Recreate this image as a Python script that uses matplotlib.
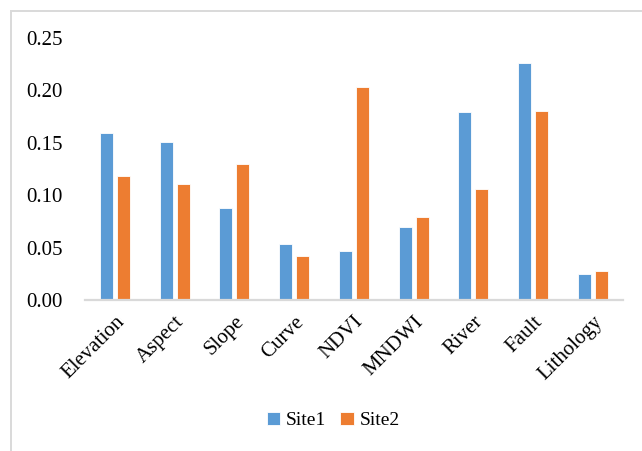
import matplotlib.pyplot as plt
import numpy as np
from matplotlib.patches import Rectangle
from matplotlib.transforms import ScaledTranslation

factors = ["Elevation", "Aspect", "Slope", "Curve", "NDVI", "MNDWI", "River", "Fault", "Lithology"]
site1 = [0.159, 0.151, 0.088, 0.053, 0.047, 0.070, 0.179, 0.226, 0.025]
site2 = [0.118, 0.111, 0.130, 0.042, 0.203, 0.079, 0.106, 0.180, 0.028]

C_SITE1 = "#5B9BD5"
C_SITE2 = "#ED7D31"
C_FRAME = "#D9D9D9"

plt.rcParams.update({
    "font.family": ["Liberation Serif", "DejaVu Serif"],
    "font.size": 15,
})

fig = plt.figure(figsize=(6.42, 4.51), dpi=100)
ax = fig.add_axes([0.1324, 0.3348, 0.8376, 0.5809])

x = np.arange(len(factors))
w = 0.215
off = 0.142
ax.bar(x - off, site1, width=w, color=C_SITE1, edgecolor="white", linewidth=0.6, label="Site1")
ax.bar(x + off, site2, width=w, color=C_SITE2, edgecolor="white", linewidth=0.6, label="Site2")

ax.set_xlim(-0.5, len(factors) - 0.5)
ax.set_ylim(0, 0.25)
ticks = np.arange(0, 0.2501, 0.05)
ax.set_yticks(ticks)
ax.set_yticklabels([f"{v:.2f}" for v in ticks])
ax.set_xticks(x)
ax.set_xticklabels(factors, rotation=45, ha="right", rotation_mode="anchor")
# nudge the slanted category names a little to the left
shift = ScaledTranslation(-0.04, 0, fig.dpi_scale_trans)
for lbl in ax.get_xticklabels():
    lbl.set_transform(lbl.get_transform() + shift)

for side in ("top", "right", "left"):
    ax.spines[side].set_visible(False)
ax.spines["bottom"].set_color(C_FRAME)
ax.spines["bottom"].set_linewidth(1.6)
ax.tick_params(axis="y", length=0, pad=16)
ax.tick_params(axis="x", length=0, pad=9)

fig.legend(loc="center", bbox_to_anchor=(0.519, 0.068), ncol=2, frameon=False,
           handlelength=0.7, handleheight=0.7, handletextpad=0.3, columnspacing=0.7,
           fontsize=14)

# chart frame: top and left edges only, the rest runs off the canvas
fig.patches.append(Rectangle((11 / 642, -0.05), 1.1, 1 - 10.5 / 451 + 0.05,
                             transform=fig.transFigure, fill=False,
                             edgecolor=C_FRAME, linewidth=1.4))

fig.savefig("out.png", dpi=100, facecolor="white")
